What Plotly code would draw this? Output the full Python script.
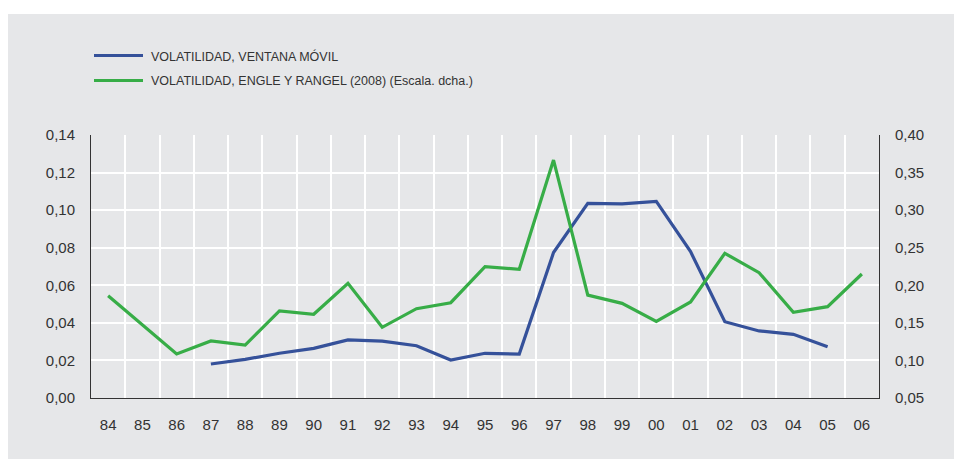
import plotly.graph_objects as go

years = ["84", "85", "86", "87", "88", "89", "90", "91", "92", "93", "94", "95",
         "96", "97", "98", "99", "00", "01", "02", "03", "04", "05", "06"]

vol_movil = [None, None, None, 0.0181, 0.0206, 0.0238, 0.0264, 0.0309, 0.0303,
             0.0278, 0.0202, 0.0238, 0.0234, 0.0774, 0.1036, 0.1033, 0.1047,
             0.0779, 0.0406, 0.0357, 0.0339, 0.0273, None]

vol_engle = [0.186, 0.147, 0.1086, 0.126, 0.1205, 0.1658, 0.1614, 0.2026, 0.1441,
             0.1689, 0.1768, 0.2247, 0.2213, 0.3667, 0.187, 0.176, 0.152,
             0.1778, 0.2426, 0.2168, 0.164, 0.1715, 0.215]

name_movil = "VOLATILIDAD, VENTANA MÓVIL"
name_engle = "VOLATILIDAD, ENGLE Y RANGEL (2008) (Escala. dcha.)"

BLUE = "#35519a"
GREEN = "#37ad47"
BG = "#e6e7e9"
TXT = "#333333"
FONT = "Liberation Sans, Arial, sans-serif"

# the page body has an 8px margin, so work in page pixels minus 8
OFF = 8
W, H = 962 - OFF, 459 - OFF
L, R, T, B = 91 - OFF, 879 - OFF, 135 - OFF, 398 - OFF
pw, ph = R - L, B - T

def px(x):
    return (x - OFF - L) / pw

def py(y):
    return (B - (y - OFF)) / ph

fig = go.Figure()
fig.add_trace(go.Scatter(x=years, y=vol_movil, mode="lines", name=name_movil,
                         line=dict(color=BLUE, width=3.2), yaxis="y",
                         connectgaps=False))
fig.add_trace(go.Scatter(x=years, y=vol_engle, mode="lines", name=name_engle,
                         line=dict(color=GREEN, width=3.2), yaxis="y2"))

shapes = [
    dict(type="rect", xref="paper", yref="paper", x0=px(7), x1=px(975),
         y0=py(470), y1=py(14), fillcolor=BG, line=dict(width=0), layer="below"),
    dict(type="line", xref="paper", yref="paper", x0=px(94), x1=px(143),
         y0=py(55.5), y1=py(55.5), line=dict(color=BLUE, width=3)),
    dict(type="line", xref="paper", yref="paper", x0=px(94), x1=px(143),
         y0=py(80.5), y1=py(80.5), line=dict(color=GREEN, width=3)),
]
annotations = [
    dict(xref="paper", yref="paper", x=px(149), y=py(56), text=name_movil,
         showarrow=False, xanchor="left", yanchor="middle",
         font=dict(size=12.5, color=TXT, family=FONT)),
    dict(xref="paper", yref="paper", x=px(149), y=py(81), text=name_engle,
         showarrow=False, xanchor="left", yanchor="middle",
         font=dict(size=12.5, color=TXT, family=FONT)),
]

fig.update_layout(
    width=W, height=H,
    margin=dict(l=L, r=W - R, t=T, b=H - B, pad=0),
    paper_bgcolor="white",
    plot_bgcolor=BG,
    separators=",.",
    showlegend=False,
    font=dict(family=FONT, size=15, color=TXT),
    shapes=shapes,
    annotations=annotations,
    xaxis=dict(type="category", tickson="boundaries", range=[-0.5, 22.5],
               showgrid=True, gridcolor="white", gridwidth=2, showline=True,
               linecolor=TXT, linewidth=1, ticks="", ticklabelstandoff=13,
               tickfont=dict(size=15, color=TXT), zeroline=False),
    yaxis=dict(range=[0, 0.14], dtick=0.02, tick0=0, tickformat=".2f",
               showgrid=True, gridcolor="white", gridwidth=2, showline=True,
               linecolor=TXT, linewidth=1, ticks="", ticklabelstandoff=12,
               zeroline=False, tickfont=dict(size=15, color=TXT)),
    yaxis2=dict(range=[0.05, 0.40], dtick=0.05, tick0=0.05, tickformat=".2f",
                overlaying="y", side="right", showgrid=False, showline=True,
                linecolor=TXT, linewidth=1, ticks="", ticklabelstandoff=12,
                zeroline=False, tickfont=dict(size=15, color=TXT)),
)

fig.write_html("out.html")
